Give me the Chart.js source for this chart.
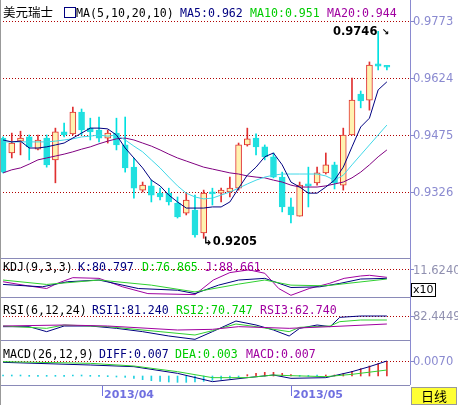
<!DOCTYPE html>
<html><head><meta charset="utf-8">
<script src="https://cdn.jsdelivr.net/npm/chart.js@4.4.0/dist/chart.umd.min.js"></script>
<style>
body{margin:0;background:#fff;width:458px;height:405px;overflow:hidden;position:relative;font-family:"DejaVu Sans Mono",monospace}
canvas{position:absolute;left:0}
.t{position:absolute;font-size:11.6px;white-space:nowrap;line-height:14px}
.yl{position:absolute;left:413px;font-family:"DejaVu Sans";font-size:11.5px;line-height:14px;color:#8a8ad0;white-space:nowrap}
.hl{position:absolute;left:0;width:410px;height:1px;background:#8a8ab8}
</style></head><body>
<canvas id="cMain" width="458" height="258" style="top:0"></canvas>
<canvas id="cKdj" width="458" height="39" style="top:258px"></canvas>
<canvas id="cRsi" width="458" height="43" style="top:297px"></canvas>
<canvas id="cMacd" width="458" height="45" style="top:340px"></canvas>
<div class="hl" style="top:258px"></div><div class="hl" style="top:297px"></div><div class="hl" style="top:340px"></div><div class="hl" style="top:385px"></div>
<div style="position:absolute;left:0;top:0;width:1px;height:405px;background:#999"></div>
<div id="ylabels"></div>

<div class="t" style="left:3px;top:4px;font-family:'Noto Sans CJK SC';font-size:12.5px;line-height:16px">美元瑞士</div>
<div style="position:absolute;left:64px;top:7px;width:10px;height:9px;border:1px solid #000080;background:#fff"></div>
<div class="t" style="left:76px;top:6px">MA(5,10,20,10)</div>
<div class="t" style="left:180px;top:6px;color:#000080">MA5:0.962</div>
<div class="t" style="left:250px;top:6px;color:#00cc00">MA10:0.951</div>
<div class="t" style="left:327px;top:6px;color:#a000a0">MA20:0.944</div>
<div class="t" style="left:333px;top:24px;font-family:'DejaVu Sans';font-weight:bold;font-size:11.5px">0.9746 <span style="font-size:9px">↘</span></div>
<div class="t" style="left:203px;top:234px;font-family:'DejaVu Sans';font-weight:bold;font-size:11.5px">↳0.9205</div>

<div class="t" style="left:3px;top:260px">KDJ(9,3,3)</div>
<div class="t" style="left:78px;top:260px;color:#000080">K:80.797</div>
<div class="t" style="left:142px;top:260px;color:#00cc00">D:76.865</div>
<div class="t" style="left:205px;top:260px;color:#a000a0">J:88.661</div>
<div class="t" style="left:411px;top:283px;border:1px solid #000;padding:0 1px;line-height:12px;font-size:11px;font-family:'DejaVu Sans'">x10</div>

<div class="t" style="left:3px;top:303px">RSI(6,12,24)</div>
<div class="t" style="left:92px;top:303px;color:#000080">RSI1:81.240</div>
<div class="t" style="left:176px;top:303px;color:#00cc00">RSI2:70.747</div>
<div class="t" style="left:260px;top:303px;color:#a000a0">RSI3:62.740</div>

<div class="t" style="left:3px;top:347px">MACD(26,12,9)</div>
<div class="t" style="left:99px;top:347px;color:#000080">DIFF:0.007</div>
<div class="t" style="left:175px;top:347px;color:#00cc00">DEA:0.003</div>
<div class="t" style="left:246px;top:347px;color:#a000a0">MACD:0.007</div>

<div style="position:absolute;left:102px;top:386px;width:1px;height:10px;background:#7070e0"></div>
<div class="t" style="left:104px;top:388px;color:#7070e0;font-family:'DejaVu Sans';font-weight:bold;font-size:11px">2013/04</div>
<div style="position:absolute;left:291px;top:386px;width:1px;height:10px;background:#7070e0"></div>
<div class="t" style="left:293px;top:388px;color:#7070e0;font-family:'DejaVu Sans';font-weight:bold;font-size:11px">2013/05</div>
<div style="position:absolute;left:411px;top:387px;width:44px;height:16px;background:#ffff33;border:1px solid #999;font-family:'Noto Sans CJK SC';font-size:13px;line-height:16px;text-align:center">日线</div>

<script>
const opens  = [.9467,.9428,.9459,.9470,.9438,.9467,.9410,.9483,.9478,.9535,.9493,.9488,.9467,.9480,.9449,.9391,.9331,.9342,.9323,.9323,.9297,.9271,.9279,.9219,.9326,.9323,.9326,.9336,.9449,.9467,.9444,.9418,.9365,.9287,.9263,.9344,.9350,.9376,.9397,.9344,.9475,.9582,.9566,.9661,.9653];
const highs  = [.9470,.9480,.9485,.9475,.9475,.9475,.9493,.9506,.9548,.9543,.9519,.9522,.9488,.9519,.9522,.9415,.9352,.9357,.9336,.9336,.9313,.9323,.9318,.9331,.9336,.9336,.9365,.9454,.9493,.9478,.9449,.9428,.9378,.9310,.9352,.9391,.9391,.9428,.9404,.9493,.9624,.9590,.9666,.9746,.9655];
const lows   = [.9376,.9415,.9423,.9410,.9436,.9391,.9350,.9470,.9475,.9475,.9462,.9457,.9454,.9436,.9378,.9310,.9326,.9300,.9305,.9292,.9258,.9266,.9208,.9205,.9292,.9300,.9313,.9331,.9446,.9423,.9410,.9363,.9274,.9245,.9263,.9287,.9344,.9373,.9334,.9331,.9475,.9546,.9540,.9645,.9645];
const closes = [.9378,.9454,.9467,.9444,.9462,.9397,.9483,.9475,.9535,.9488,.9483,.9467,.9480,.9449,.9389,.9336,.9344,.9318,.9313,.9300,.9261,.9305,.9214,.9323,.9321,.9331,.9336,.9449,.9465,.9444,.9418,.9365,.9287,.9266,.9344,.9342,.9376,.9397,.9350,.9475,.9566,.9564,.9658,.9655,.9652];
const ma5  = [.9462,.9457,.9459,.9441,.9441,.9444,.9449,.9454,.9467,.9480,.9493,.9493,.9491,.9475,.9441,.9415,.9389,.9357,.9342,.9318,.9300,.9284,.9284,.9284,.9287,.9287,.9300,.9336,.9370,.9391,.9418,.9428,.9397,.9352,.9339,.9323,.9323,.9339,.9357,.9391,.9444,.9496,.9519,.9593,.9614];
const ma10 = [.9457,.9457,.9457,.9457,.9457,.9457,.9459,.9462,.9465,.9470,.9472,.9475,.9472,.9475,.9462,.9446,.9431,.9410,.9389,.9365,.9342,.9323,.9313,.9308,.9310,.9318,.9326,.9336,.9347,.9357,.9365,.9370,.9373,.9373,.9373,.9373,.9373,.9368,.9357,.9370,.9397,.9423,.9449,.9475,.9501];
const ma20 = [.9376,.9384,.9389,.9399,.9410,.9415,.9420,.9425,.9431,.9438,.9444,.9452,.9459,.9465,.9467,.9462,.9454,.9446,.9436,.9425,.9415,.9407,.9399,.9391,.9386,.9381,.9376,.9373,.9368,.9365,.9363,.9357,.9352,.9344,.9339,.9339,.9339,.9342,.9347,.9352,.9363,.9378,.9397,.9418,.9436];
const priceTicks = [0.9773, 0.9624, 0.9475, 0.9326];

const kdjK = [[0,37],[4.5,30],[7.4,45],[11,50],[15.5,25],[20,20],[22,10],[24.7,35],[27,50],[30,55],[33,28],[36.3,30],[38.6,40],[41,53],[44,55]];
const kdjD = [[0,50],[5,37],[11,50],[17,35],[22,15],[27,38],[30,50],[33,35],[37,33],[44,53]];
const kdjJ = [[0,45],[2.8,33],[5,25],[6.2,40],[8,57],[11,55],[13.7,30],[16.6,10],[22,7],[24.1,50],[26,72],[28.2,80],[30,70],[31.6,25],[33,5],[35.1,25],[37.4,40],[39.1,55],[41,62],[42,64],[44,58]];
const rsi1 = [[0,40],[3,40],[5,25],[7,42],[10,42],[13,35],[16,25],[19,12],[22,2],[24,25],[26.7,57],[29,45],[31,30],[32.8,12],[34,35],[36,45],[37.5,40],[38.6,68],[41,72],[44,72]];
const rsi2 = [[0,42],[5,35],[7,45],[12,40],[18,25],[22,15],[24,28],[26.7,48],[29,40],[32.8,25],[34,38],[37.5,42],[38.6,55],[41,60],[44,60]];
const rsi3 = [[0,42],[7,45],[12,42],[20,30],[24,32],[27,40],[32.8,35],[37.5,40],[44,48]];
const diff = [[0,68],[10,60],[15,55],[20,35],[24,10],[28,22],[31,30],[33,20],[37,22],[40,40],[42,55],[44,72]];
const dea  = [[0,70],[10,65],[15,57],[20,40],[24,22],[28,22],[31,30],[33,28],[37,25],[40,32],[44,45]];
const macdHist = [0,0,0,-1,-1,-1,-1,-1,0,0,-1,-1,-2,-3,-4,-7,-11,-14,-16,-18,-19,-19,-18,-16,-13,-10,-7,-3,4,8,11,11,8,4,-1,-1,0,2,3,7,14,22,30,37,44];
const macdZero = 27;

const XMIN=-0.35, XMAX=46.65;
const xs = {type:'linear',min:XMIN,max:XMAX,display:false,offset:false};
const yLabelDivs = document.getElementById('ylabels');
function yAxis(min,max,ticks,labels,top,h,color){
  ticks.forEach((v,i)=>{
    const y = top + h*(max-v)/(max-min);
    const d=document.createElement('div'); d.className='yl'; d.textContent=labels[i];
    d.style.top=(y-7)+'px'; if(color) d.style.color=color; yLabelDivs.appendChild(d);
  });
  return {position:'right',min,max,
    afterFit:s=>{s.width=48},
    afterBuildTicks:s=>{s.ticks=ticks.map(v=>({value:v}))},
    grid:{color:'#b00000',lineWidth:1,tickColor:'#8888cc',tickLength:4},
    border:{display:true,color:'#8a8ad0',dash:[1,2]},
    ticks:{display:false}};
}
const base = {responsive:false,animation:false,events:[],layout:{padding:0},
  plugins:{legend:{display:false},tooltip:{enabled:false}}};
const pt = a=>a.map(p=>({x:p[0],y:p[1]}));

const up = closes.map((c,i)=>c>=opens[i]);
new Chart(document.getElementById('cMain'),{type:'bar',
  data:{datasets:[
    {type:'line',data:ma5.map((v,i)=>({x:i,y:v})),borderColor:'#000080',borderWidth:1,pointRadius:0,order:0},
    {type:'line',data:ma10.map((v,i)=>({x:i,y:v})),borderColor:'#40d8e8',borderWidth:1,pointRadius:0,order:0},
    {type:'line',data:ma20.map((v,i)=>({x:i,y:v})),borderColor:'#800080',borderWidth:1,pointRadius:0,order:0},
    {data:lows.map((l,i)=>({x:i,y:[l,highs[i]]})),backgroundColor:up.map(u=>u?'#e03030':'#00e0e0'),barThickness:1,grouped:false,order:2},
    {data:opens.map((o,i)=>({x:i,y:[o,closes[i]]})),backgroundColor:up.map(u=>u?'#fff2b0':'#20e0e0'),borderColor:up.map(u=>u?'#e03030':'#20e0e0'),borderWidth:1,borderSkipped:false,barThickness:6,minBarLength:2,grouped:false,order:1}
  ]},
  options:{...base,scales:{x:xs,y:yAxis(0.91535,0.98279,priceTicks,priceTicks.map(v=>v.toFixed(4)),0,258)}}
});
function ind(id,max,tick,label,top,h,sets){
  new Chart(document.getElementById(id),{type:'line',data:{datasets:sets},
    options:{...base,scales:{x:xs,y:yAxis(0,max,[tick],[label],top,h,'#9090b0')}}});
}
const L=(d,c)=>({data:pt(d),borderColor:c,borderWidth:1,pointRadius:0});
ind('cKdj',115,80,'11.6240',258,39,[L(kdjD,'#30d030'),L(kdjK,'#000080'),L(kdjJ,'#a000a0')]);
ind('cRsi',129,72,'82.4449',297,43,[L(rsi3,'#a000a0'),L(rsi2,'#30d030'),L(rsi1,'#000080')]);
new Chart(document.getElementById('cMacd'),{type:'bar',
  data:{datasets:[
    {type:'line',...L(dea,'#30d030')},{type:'line',...L(diff,'#000080')},
    {data:macdHist.map((v,i)=>({x:i,y:[macdZero,macdZero+v]})),backgroundColor:macdHist.map(v=>v>0?'#e03030':'#20d0e0'),barThickness:1,minBarLength:1,grouped:false}
  ]},
  options:{...base,scales:{x:xs,y:yAxis(0,135,[72],['0.0070'],340,45)}}
});
</script></body></html>
